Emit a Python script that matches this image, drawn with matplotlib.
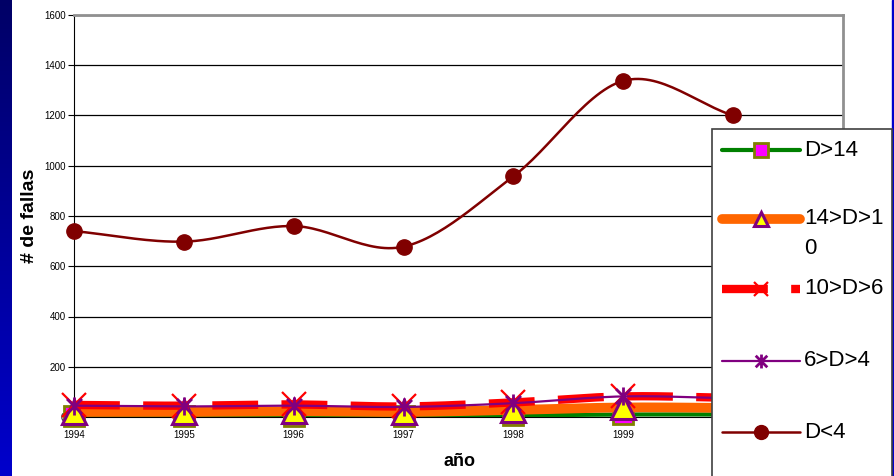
import numpy as np
import matplotlib.pyplot as plt
from matplotlib.lines import Line2D
from matplotlib.path import Path
from matplotlib.colors import LinearSegmentedColormap

years = [1994, 1995, 1996, 1997, 1998, 1999, 2000]
d_mas14 = [5, 5, 5, 5, 6, 10, 10]
d_14_10 = [20, 20, 23, 20, 28, 38, 36]
d_10_6 = [48, 45, 50, 42, 58, 82, 76]
d_6_4 = [45, 42, 45, 40, 55, 82, 74]
d_menos4 = [740, 698, 760, 678, 958, 1338, 1200]
etiquetas = ['D>14', '14>D>1\n0', '10>D>6', '6>D>4', 'D<4']

plt.rcParams['font.family'] = ['Liberation Sans', 'DejaVu Sans']


def suavizar(x, y, n=30):
    # curva tipo Catmull-Rom entre los puntos, como las lineas suavizadas de Excel
    x = np.asarray(x, float)
    y = np.asarray(y, float)
    px = np.concatenate([[2 * x[0] - x[1]], x, [2 * x[-1] - x[-2]]])
    py = np.concatenate([[2 * y[0] - y[1]], y, [2 * y[-1] - y[-2]]])
    xs, ys = [], []
    t = np.linspace(0, 1, n)
    for i in range(1, len(px) - 2):
        for p, out in ((px, xs), (py, ys)):
            p0, p1, p2, p3 = p[i - 1], p[i], p[i + 1], p[i + 2]
            out.extend(0.5 * (2 * p1 + (-p0 + p2) * t
                              + (2 * p0 - 5 * p1 + 4 * p2 - p3) * t ** 2
                              + (-p0 + 3 * p1 - 3 * p2 + p3) * t ** 3))
    return xs, ys


# marcador estrella de Excel: aspa + raya vertical
estrella = Path([(-1, -1), (1, 1), (-1, 1), (1, -1), (0, -1.2), (0, 1.2)],
                [Path.MOVETO, Path.LINETO, Path.MOVETO, Path.LINETO, Path.MOVETO, Path.LINETO])

series = [
    (d_mas14, dict(color='#008000', lw=3), dict(marker='s', ms=14, mfc='#FF00FF', mec='#808000', mew=2)),
    (d_14_10, dict(color='#FF6600', lw=7, solid_capstyle='round'), dict(marker='^', ms=17, mfc='#FFFF00', mec='#800080', mew=2.2)),
    (d_10_6, dict(color='#FF0000', lw=6, dashes=(5.5, 2.8)), dict(marker='x', ms=17, mec='#FF0000', mew=1.6)),
    (d_6_4, dict(color='#800080', lw=1.6), dict(marker=estrella, ms=13, mec='#800080', mfc='none', mew=2)),
    (d_menos4, dict(color='#800000', lw=1.8), dict(marker='o', ms=11, mfc='#800000', mec='#800000')),
]

W, H = 895, 476
fig = plt.figure(figsize=(8.95, 4.76), dpi=100)
fig.patch.set_facecolor('white')

# franjas azules de los bordes
franja = fig.add_axes([0, 0, 12 / W, 1])
franja.imshow(np.linspace(0, 1, 256).reshape(-1, 1), aspect='auto',
              cmap=LinearSegmentedColormap.from_list('az', ['#000066', '#0000CC']))
franja.axis('off')
fig.add_artist(plt.Rectangle((892 / W, 0), 3 / W, 1, transform=fig.transFigure, color='#0000CC'))

ax = fig.add_axes([74 / W, 1 - 417 / H, (843 - 74) / W, (417 - 15) / H])
for i, (vals, est_linea, est_marca) in enumerate(series):
    xs, ys = suavizar(years, vals)
    ax.plot(xs, ys, zorder=3 + i, **est_linea)
    ax.plot(years, vals, ls='none', zorder=3 + i, clip_on=False, **est_marca)

ax.set_xlim(1994, 2001)
ax.set_ylim(0, 1600)
ax.set_yticks(range(0, 1601, 200))
ax.set_xticks(years[:-1])
ax.set_xticklabels([str(a) for a in years[:-1]])
ax.tick_params(axis='y', labelsize=7, length=4, width=0.8, pad=2)
ax.tick_params(axis='x', labelsize=7, length=0, pad=9)
ax.grid(axis='y', color='black', lw=0.9)
ax.set_axisbelow(True)
ax.spines['left'].set_color('black')
ax.spines['bottom'].set_color('black')
ax.spines['top'].set_color('#909090')
ax.spines['right'].set_color('#909090')
ax.spines['top'].set_linewidth(2)
ax.spines['right'].set_linewidth(2)
ax.set_ylabel('# de fallas', fontsize=14, fontweight='bold', va='center')
ax.yaxis.set_label_coords((30 - 74) / (843 - 74), 0.5)
ax.set_xlabel('año', fontsize=13, fontweight='bold', va='center')
ax.xaxis.set_label_coords((459 - 74) / (843 - 74), -(461 - 417) / (417 - 15))

# leyenda dibujada a mano: caja blanca que baja hasta el borde
fig.add_artist(plt.Rectangle((712 / W, -0.01), (892 - 712) / W, 0.01 + 1 - 129 / H,
                             transform=fig.transFigure, facecolor='white',
                             edgecolor='#404040', lw=1.2, zorder=20))
filas = [150, 219, 289, 361, 432]
for (vals, est_linea, est_marca), etiqueta, yp in zip(series, etiquetas, filas):
    yf = 1 - yp / H
    linea = dict(est_linea)
    linea.pop('solid_capstyle', None)
    fig.add_artist(Line2D([722 / W, 800 / W], [yf, yf], transform=fig.transFigure,
                          solid_capstyle='round', zorder=21, **linea))
    marca = dict(est_marca)
    marca['ms'] = 10
    fig.add_artist(Line2D([761 / W], [yf], transform=fig.transFigure, ls='none', zorder=22, **marca))
    fig.text(804 / W, yf, etiqueta.split('\n')[0], fontsize=16, va='center', ha='left', zorder=23)
    if '\n' in etiqueta:
        fig.text(804 / W, 1 - (yp + 30) / H, etiqueta.split('\n')[1], fontsize=16,
                 va='center', ha='left', zorder=23)

fig.savefig('out.png', dpi=100)
